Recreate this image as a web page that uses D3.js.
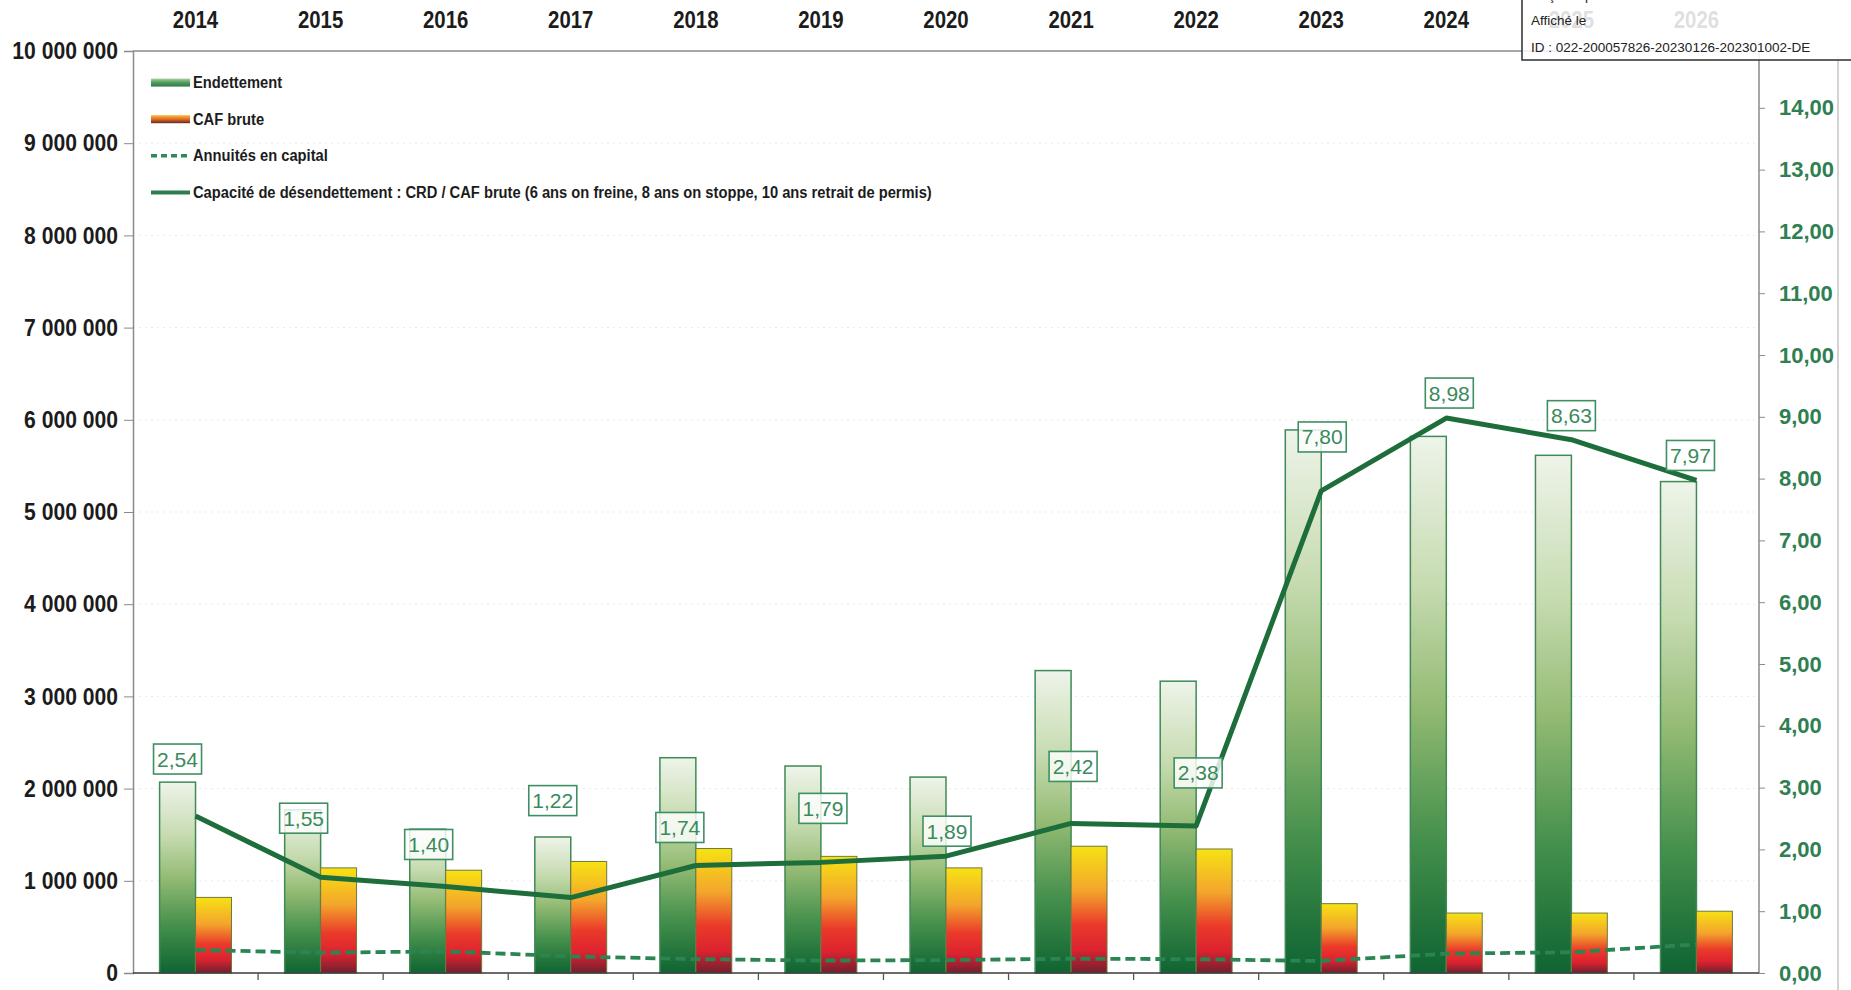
<!DOCTYPE html>
<html>
<head>
<meta charset="utf-8">
<script src="https://cdn.jsdelivr.net/npm/d3@7"></script>
<style>
  html, body { margin: 0; padding: 0; background: #fff; }
  svg { display: block; }
  .narrow { font-family: "Liberation Sans", Arial, sans-serif; }
  .reg { font-family: "Liberation Sans", Arial, sans-serif; }
</style>
</head>
<body>
<svg id="chart" width="1851" height="990"></svg>
<script>
// Années de la prospective
const years = ["2014","2015","2016","2017","2018","2019","2020","2021","2022","2023","2024","2025","2026"];
// Endettement (capital restant dû), en euros
const endettement = [2070000, 1770000, 1560000, 1475000, 2335000, 2245000, 2125000, 3280000, 3165000, 5890000, 5820000, 5615000, 5330000];
// CAF brute, en euros
const cafBrute = [820000, 1140000, 1115000, 1210000, 1350000, 1265000, 1140000, 1375000, 1345000, 752000, 650000, 650000, 670000];
// Annuités en capital, en euros
const annuites = [250000, 220000, 235000, 180000, 150000, 135000, 140000, 155000, 150000, 130000, 210000, 225000, 310000];
// Capacité de désendettement (années)
const capacite = [2.54, 1.55, 1.40, 1.22, 1.74, 1.79, 1.89, 2.42, 2.38, 7.80, 8.98, 8.63, 7.97];
// Graduations
const leftTicks = [0, 1e6, 2e6, 3e6, 4e6, 5e6, 6e6, 7e6, 8e6, 9e6, 10e6];
const rightTicks = [0, 1, 2, 3, 4, 5, 6, 7, 8, 9, 10, 11, 12, 13, 14];
// Décalage des étiquettes de la courbe (px, par rapport au point)
const labelShift = [[-18,-57],[-17,-59],[-17,-42],[-18,-97],[-16,-38],[2,-54],[1,-25],[2,-57],[2,-53],[1,-54],[3,-25],[0,-24],[-6,-25]];

const legendItems = [
  { key: "endettement", label: "Endettement" },
  { key: "caf", label: "CAF brute" },
  { key: "annuites", label: "Annuités en capital" },
  { key: "capacite", label: "Capacité de désendettement : CRD / CAF brute (6 ans on freine, 8 ans on stoppe, 10 ans retrait de permis)" }
];

const svg = d3.select("#chart");
const L = 133, R = 1759, T = 51, B = 973;
// Compression horizontale des textes en gras (effet « narrow »)
const SQ_AXIS = 0.88, SQ_YEAR = 0.85, SQ_LEG = 0.92;

const fr = d3.formatLocale({ decimal: ",", thousands: " ", grouping: [3], currency: ["", " €"] });
const fmtInt = fr.format(",.0f");
const fmtDec = fr.format(".2f");

const x = d3.scaleBand().domain(years).range([L, R]).paddingInner(0).paddingOuter(0);
const xs = d3.scaleBand().domain(["e", "c"]).range([0, x.bandwidth()]).paddingInner(0).paddingOuter(0.74);
const yL = d3.scaleLinear().domain([0, 10e6]).range([B, T]);
const yR = d3.scaleLinear().domain([0, 15]).range([B, B - 15 * 61.8]);

// Dégradés
const defs = svg.append("defs");
const gE = defs.append("linearGradient").attr("id", "gradE").attr("x1", 0).attr("y1", 0).attr("x2", 0).attr("y2", 1);
[[0, "#eef4ea"], [0.28, "#c6dbb0"], [0.5, "#94bb74"], [0.75, "#45904c"], [1, "#0f6432"]]
  .forEach(([o, c]) => gE.append("stop").attr("offset", o).attr("stop-color", c));
const gC = defs.append("linearGradient").attr("id", "gradC").attr("x1", 0).attr("y1", 0).attr("x2", 0).attr("y2", 1);
[[0, "#f7e214"], [0.35, "#f3a52c"], [0.62, "#ea3a2a"], [0.82, "#dc2230"], [1, "#702030"]]
  .forEach(([o, c]) => gC.append("stop").attr("offset", o).attr("stop-color", c));
const gEh = defs.append("linearGradient").attr("id", "gradEh").attr("x1", 0).attr("y1", 0).attr("x2", 0).attr("y2", 1);
[[0, "#a8d0a0"], [0.5, "#4f9a5c"], [1, "#2e7d4a"]].forEach(([o, c]) => gEh.append("stop").attr("offset", o).attr("stop-color", c));
const gCh = defs.append("linearGradient").attr("id", "gradCh").attr("x1", 0).attr("y1", 0).attr("x2", 0).attr("y2", 1);
[[0, "#f3c030"], [0.5, "#ea6a2a"], [1, "#5a2a20"]].forEach(([o, c]) => gCh.append("stop").attr("offset", o).attr("stop-color", c));

// Quadrillage pointillé discret
svg.append("g").selectAll("line").data(leftTicks.slice(1, -1)).join("line")
  .attr("x1", L).attr("x2", R).attr("y1", d => yL(d)).attr("y2", d => yL(d))
  .attr("stroke", "#d6d6d6").attr("stroke-width", 1).attr("stroke-dasharray", "2,4").attr("opacity", 0.5);

// Cadre
svg.append("line").attr("x1", L).attr("x2", R).attr("y1", T).attr("y2", T).attr("stroke", "#8a8a8a").attr("stroke-width", 1.5);
svg.append("line").attr("x1", 1838).attr("x2", 1838).attr("y1", 55).attr("y2", 990).attr("stroke", "#c4c4c4").attr("stroke-width", 1.5);

// Axe gauche
const axL = svg.append("g").attr("transform", `translate(${L},0)`)
  .call(d3.axisLeft(yL).tickValues(leftTicks).tickSize(9).tickPadding(6).tickFormat(fmtInt));
axL.select(".domain").attr("stroke", "#8a8a8a").attr("stroke-width", 1.5);
axL.selectAll(".tick line").attr("stroke", "#8a8a8a");
axL.selectAll("text").attr("class", "narrow").attr("font-size", 24).attr("font-weight", "bold").attr("fill", "#1c1c1c")
  .attr("x", -15 / SQ_AXIS).attr("transform", `scale(${SQ_AXIS},1)`);

// Axe droit
const axR = svg.append("g").attr("transform", `translate(${R},0)`)
  .call(d3.axisRight(yR).tickValues(rightTicks).tickSize(6).tickPadding(14).tickFormat(fmtDec));
axR.select(".domain").remove();
axR.append("line").attr("x1", 0).attr("x2", 0).attr("y1", T).attr("y2", B).attr("stroke", "#8a8a8a").attr("stroke-width", 1.5);
axR.selectAll(".tick line").attr("stroke", "#8a8a8a");
axR.selectAll("text").attr("class", "reg").attr("font-size", 22).attr("font-weight", "bold").attr("fill", "#2f7f52");

// Années en haut
svg.append("g").attr("transform", `scale(${SQ_YEAR},1)`).selectAll("text").data(years).join("text")
  .attr("class", "narrow")
  .attr("x", d => (x(d) + x.bandwidth() / 2) / SQ_YEAR).attr("y", 28)
  .attr("text-anchor", "middle").attr("font-size", 24).attr("font-weight", "bold").attr("fill", "#1c1c1c")
  .text(d => d);

// Barres
const bars = svg.append("g");
bars.selectAll("rect.e").data(years).join("rect").attr("class", "e")
  .attr("x", d => x(d) + xs("e")).attr("width", xs.bandwidth())
  .attr("y", (d, i) => yL(endettement[i])).attr("height", (d, i) => B - yL(endettement[i]))
  .attr("fill", "url(#gradE)").attr("stroke", "#3f8a56").attr("stroke-width", 1.5);
bars.selectAll("rect.c").data(years).join("rect").attr("class", "c")
  .attr("x", d => x(d) + xs("c")).attr("width", xs.bandwidth())
  .attr("y", (d, i) => yL(cafBrute[i])).attr("height", (d, i) => B - yL(cafBrute[i]))
  .attr("fill", "url(#gradC)").attr("stroke", "#6c7a3c").attr("stroke-width", 1);

// Axe des abscisses
svg.append("line").attr("x1", L).attr("x2", R).attr("y1", B).attr("y2", B).attr("stroke", "#3a3a3a").attr("stroke-width", 1.5);
svg.append("g").selectAll("line").data(years.slice(1)).join("line")
  .attr("x1", d => x(d)).attr("x2", d => x(d)).attr("y1", B).attr("y2", B + 7)
  .attr("stroke", "#555").attr("stroke-width", 1.3);

const cx = d => x(d) + x.bandwidth() / 2;

// Annuités en capital
svg.append("path").datum(years)
  .attr("d", d3.line().x(cx).y((d, i) => yL(annuites[i])))
  .attr("fill", "none").attr("stroke", "#2a8553").attr("stroke-width", 3.8).attr("stroke-dasharray", "10,5");

// Capacité de désendettement
svg.append("path").datum(years)
  .attr("d", d3.line().x(cx).y((d, i) => yR(capacite[i])))
  .attr("fill", "none").attr("stroke", "#1d6e3a").attr("stroke-width", 5).attr("stroke-linejoin", "round");

// Étiquettes de valeur
const lab = svg.append("g").selectAll("g").data(years).join("g")
  .attr("transform", (d, i) => `translate(${cx(d) + labelShift[i][0]},${yR(capacite[i]) + labelShift[i][1]})`);
lab.append("rect").attr("x", -24).attr("y", -15).attr("width", 48).attr("height", 30)
  .attr("fill", "#fff").attr("fill-opacity", 0.82).attr("stroke", "#3e9062").attr("stroke-width", 1.6);
lab.append("text").attr("class", "reg").attr("text-anchor", "middle").attr("y", 7.5)
  .attr("font-size", 21).attr("fill", "#3a8a5c")
  .text((d, i) => fmtDec(capacite[i]));

// Légende
const leg = svg.append("g").selectAll("g").data(legendItems).join("g")
  .attr("transform", (d, i) => `translate(151,${82.6 + i * 36.6})`);
leg.each(function (d) {
  const g = d3.select(this);
  if (d.key === "endettement") {
    g.append("rect").attr("x", 0).attr("y", -4).attr("width", 39).attr("height", 8).attr("fill", "url(#gradEh)");
  } else if (d.key === "caf") {
    g.append("rect").attr("x", 0).attr("y", -4).attr("width", 39).attr("height", 8).attr("fill", "url(#gradCh)");
  } else if (d.key === "annuites") {
    g.append("line").attr("x1", 0).attr("x2", 39).attr("stroke", "#2f8a57").attr("stroke-width", 3.5).attr("stroke-dasharray", "6,4");
  } else {
    g.append("line").attr("x1", 0).attr("x2", 39).attr("stroke", "#2e7d4f").attr("stroke-width", 4);
  }
});
leg.append("text").attr("class", "narrow").attr("x", 42 / SQ_LEG).attr("y", 5.5)
  .attr("transform", `scale(${SQ_LEG},1)`)
  .attr("font-size", 16).attr("font-weight", "bold").attr("fill", "#1c1c1c")
  .text(d => d.label);

// Tampon d'affichage
const stamp = svg.append("g");
stamp.append("rect").attr("x", 1522).attr("y", -4).attr("width", 340).attr("height", 64)
  .attr("fill", "#fff").attr("fill-opacity", 0.86).attr("stroke", "#3a3a3a").attr("stroke-width", 1.6);
stamp.append("text").attr("class", "reg").attr("x", 1531).attr("y", 0).attr("font-size", 13.5).attr("fill", "#222").text("Reçu en préfecture le");
stamp.append("text").attr("class", "reg").attr("x", 1531).attr("y", 25).attr("font-size", 13.5).attr("fill", "#222").text("Affiché le");
stamp.append("text").attr("class", "reg").attr("x", 1531).attr("y", 52).attr("font-size", 13.5).attr("fill", "#222").text("ID : 022-200057826-20230126-202301002-DE");
</script>
</body>
</html>
